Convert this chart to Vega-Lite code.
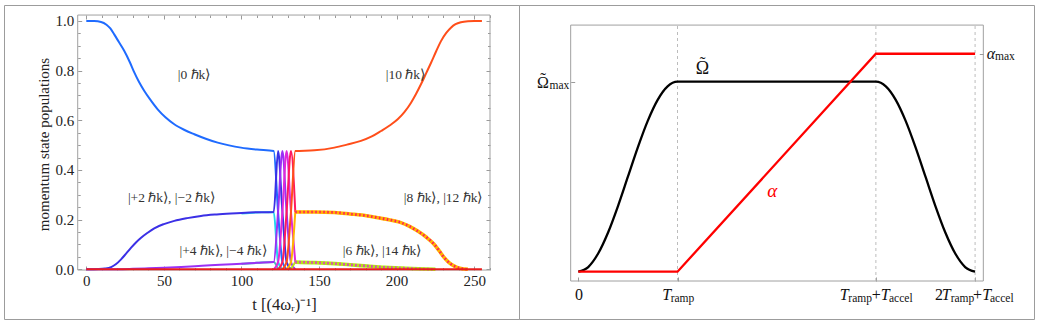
{
  "$schema": "https://vega.github.io/schema/vega-lite/v6.json",
  "background": "white",
  "padding": {"left": 3, "top": 4, "right": 0, "bottom": 0},
  "spacing": 0,
  "bounds": "flush",
  "resolve": {"scale": {"color": "independent"}},
  "config": {
    "view": {"stroke": "#9c9c9c", "strokeWidth": 1},
    "font": "Liberation Serif",
    "axis": {"labelFont": "Liberation Serif", "titleFont": "Liberation Serif", "labelColor": "#222", "titleColor": "#222", "tickColor": "#9a9a9a", "domain": false, "grid": false, "labelFlush": false, "labelOverlap": false, "titleFontWeight": "normal", "labelFontSize": 15, "titleFontSize": 15}
  },
  "datasets": {
    "left": [
      {"s": "m4", "t": 100, "v": 0.022}, {"s": "m4", "t": 110, "v": 0.026}, {"s": "m4", "t": 120.8, "v": 0.029}, {"s": "m4", "t": 123.6, "v": 0},
      {"s": "m2", "t": 100, "v": 0.225}, {"s": "m2", "t": 110, "v": 0.229}, {"s": "m2", "t": 120.8, "v": 0.231}, {"s": "m2", "t": 123.6, "v": 0.029}, {"s": "m2", "t": 126.4, "v": 0},
      {"s": "z0", "t": 0, "v": 1}, {"s": "z0", "t": 5, "v": 0.9995}, {"s": "z0", "t": 9.5, "v": 0.996}, {"s": "z0", "t": 13, "v": 0.985}, {"s": "z0", "t": 15.5, "v": 0.97}, {"s": "z0", "t": 18, "v": 0.946}, {"s": "z0", "t": 21, "v": 0.915}, {"s": "z0", "t": 24.5, "v": 0.879}, {"s": "z0", "t": 28, "v": 0.835}, {"s": "z0", "t": 31, "v": 0.792}, {"s": "z0", "t": 34, "v": 0.754}, {"s": "z0", "t": 37.4, "v": 0.718}, {"s": "z0", "t": 41, "v": 0.685}, {"s": "z0", "t": 46, "v": 0.644}, {"s": "z0", "t": 51, "v": 0.612}, {"s": "z0", "t": 56.7, "v": 0.584}, {"s": "z0", "t": 63, "v": 0.562}, {"s": "z0", "t": 69.6, "v": 0.544}, {"s": "z0", "t": 77, "v": 0.526}, {"s": "z0", "t": 84.7, "v": 0.51}, {"s": "z0", "t": 92, "v": 0.499}, {"s": "z0", "t": 99.7, "v": 0.49}, {"s": "z0", "t": 110, "v": 0.482}, {"s": "z0", "t": 120.8, "v": 0.476}, {"s": "z0", "t": 123.6, "v": 0.231}, {"s": "z0", "t": 126.4, "v": 0.029}, {"s": "z0", "t": 129.1, "v": 0},
      {"s": "p2", "t": 0, "v": 0}, {"s": "p2", "t": 8, "v": 0.001}, {"s": "p2", "t": 12, "v": 0.003}, {"s": "p2", "t": 16, "v": 0.009}, {"s": "p2", "t": 19, "v": 0.02}, {"s": "p2", "t": 22.4, "v": 0.04}, {"s": "p2", "t": 25.5, "v": 0.062}, {"s": "p2", "t": 28.9, "v": 0.087}, {"s": "p2", "t": 32, "v": 0.108}, {"s": "p2", "t": 35.3, "v": 0.127}, {"s": "p2", "t": 39.5, "v": 0.147}, {"s": "p2", "t": 43.8, "v": 0.165}, {"s": "p2", "t": 50, "v": 0.182}, {"s": "p2", "t": 56.7, "v": 0.195}, {"s": "p2", "t": 65, "v": 0.206}, {"s": "p2", "t": 73.9, "v": 0.215}, {"s": "p2", "t": 84, "v": 0.221}, {"s": "p2", "t": 93.3, "v": 0.225}, {"s": "p2", "t": 105, "v": 0.229}, {"s": "p2", "t": 120.8, "v": 0.231}, {"s": "p2", "t": 123.6, "v": 0.476}, {"s": "p2", "t": 126.4, "v": 0.231}, {"s": "p2", "t": 129.1, "v": 0.029}, {"s": "p2", "t": 131.9, "v": 0},
      {"s": "p4", "t": 0, "v": 0}, {"s": "p4", "t": 20, "v": 0.0005}, {"s": "p4", "t": 30, "v": 0.002}, {"s": "p4", "t": 40, "v": 0.004}, {"s": "p4", "t": 50, "v": 0.006}, {"s": "p4", "t": 61.2, "v": 0.009}, {"s": "p4", "t": 70, "v": 0.012}, {"s": "p4", "t": 80, "v": 0.016}, {"s": "p4", "t": 90, "v": 0.019}, {"s": "p4", "t": 100, "v": 0.022}, {"s": "p4", "t": 110, "v": 0.026}, {"s": "p4", "t": 120.8, "v": 0.029}, {"s": "p4", "t": 123.6, "v": 0.231}, {"s": "p4", "t": 126.4, "v": 0.476}, {"s": "p4", "t": 129.1, "v": 0.231}, {"s": "p4", "t": 131.9, "v": 0.029}, {"s": "p4", "t": 134.7, "v": 0},
      {"s": "p6", "t": 120.8, "v": 0}, {"s": "p6", "t": 123.6, "v": 0.029}, {"s": "p6", "t": 126.4, "v": 0.231}, {"s": "p6", "t": 129.1, "v": 0.476}, {"s": "p6", "t": 131.9, "v": 0.231}, {"s": "p6", "t": 134.7, "v": 0.029},
      {"s": "p8", "t": 123.6, "v": 0}, {"s": "p8", "t": 126.4, "v": 0.029}, {"s": "p8", "t": 129.1, "v": 0.231}, {"s": "p8", "t": 131.9, "v": 0.476}, {"s": "p8", "t": 134.7, "v": 0.231},
      {"s": "p10", "t": 126.4, "v": 0}, {"s": "p10", "t": 129.1, "v": 0.029}, {"s": "p10", "t": 131.9, "v": 0.231}, {"s": "p10", "t": 134.7, "v": 0.476}, {"s": "p10", "t": 147, "v": 0.479}, {"s": "p10", "t": 159.9, "v": 0.49}, {"s": "p10", "t": 168, "v": 0.502}, {"s": "p10", "t": 177, "v": 0.517}, {"s": "p10", "t": 184, "v": 0.535}, {"s": "p10", "t": 190, "v": 0.557}, {"s": "p10", "t": 195.5, "v": 0.579}, {"s": "p10", "t": 200.7, "v": 0.604}, {"s": "p10", "t": 205, "v": 0.633}, {"s": "p10", "t": 209.3, "v": 0.671}, {"s": "p10", "t": 212.5, "v": 0.706}, {"s": "p10", "t": 215.7, "v": 0.745}, {"s": "p10", "t": 219, "v": 0.789}, {"s": "p10", "t": 222.2, "v": 0.832}, {"s": "p10", "t": 225.5, "v": 0.878}, {"s": "p10", "t": 228.6, "v": 0.919}, {"s": "p10", "t": 232, "v": 0.952}, {"s": "p10", "t": 235, "v": 0.973}, {"s": "p10", "t": 238, "v": 0.987}, {"s": "p10", "t": 241.5, "v": 0.995}, {"s": "p10", "t": 246, "v": 0.999}, {"s": "p10", "t": 250, "v": 1}, {"s": "p10", "t": 255, "v": 1},
      {"s": "p12", "t": 129.1, "v": 0}, {"s": "p12", "t": 131.9, "v": 0.029}, {"s": "p12", "t": 134.7, "v": 0.231},
      {"s": "p14", "t": 131.9, "v": 0}, {"s": "p14", "t": 134.7, "v": 0.029},
      {"s": "p12w", "t": 134.7, "v": 0.231}, {"s": "p12w", "t": 147, "v": 0.231}, {"s": "p12w", "t": 160, "v": 0.229}, {"s": "p12w", "t": 170, "v": 0.223}, {"s": "p12w", "t": 181.4, "v": 0.215}, {"s": "p12w", "t": 192, "v": 0.203}, {"s": "p12w", "t": 202.8, "v": 0.188}, {"s": "p12w", "t": 208, "v": 0.174}, {"s": "p12w", "t": 213.6, "v": 0.154}, {"s": "p12w", "t": 219, "v": 0.13}, {"s": "p12w", "t": 224.3, "v": 0.1}, {"s": "p12w", "t": 227.5, "v": 0.074}, {"s": "p12w", "t": 230.7, "v": 0.047}, {"s": "p12w", "t": 234, "v": 0.026}, {"s": "p12w", "t": 237.2, "v": 0.013}, {"s": "p12w", "t": 241.5, "v": 0.003}, {"s": "p12w", "t": 246, "v": 0},
      {"s": "p14w", "t": 134.7, "v": 0.029}, {"s": "p14w", "t": 147, "v": 0.027}, {"s": "p14w", "t": 160, "v": 0.023}, {"s": "p14w", "t": 170, "v": 0.018}, {"s": "p14w", "t": 181, "v": 0.013}, {"s": "p14w", "t": 192, "v": 0.008}, {"s": "p14w", "t": 203, "v": 0.005}, {"s": "p14w", "t": 214, "v": 0.002}, {"s": "p14w", "t": 225, "v": 0},
      {"s": "p8d", "t": 134.7, "v": 0.231}, {"s": "p8d", "t": 147, "v": 0.231}, {"s": "p8d", "t": 160, "v": 0.229}, {"s": "p8d", "t": 170, "v": 0.223}, {"s": "p8d", "t": 181.4, "v": 0.215}, {"s": "p8d", "t": 192, "v": 0.203}, {"s": "p8d", "t": 202.8, "v": 0.188}, {"s": "p8d", "t": 208, "v": 0.174}, {"s": "p8d", "t": 213.6, "v": 0.154}, {"s": "p8d", "t": 219, "v": 0.13}, {"s": "p8d", "t": 224.3, "v": 0.1}, {"s": "p8d", "t": 227.5, "v": 0.074}, {"s": "p8d", "t": 230.7, "v": 0.047}, {"s": "p8d", "t": 234, "v": 0.026}, {"s": "p8d", "t": 237.2, "v": 0.013}, {"s": "p8d", "t": 241.5, "v": 0.003}, {"s": "p8d", "t": 246, "v": 0},
      {"s": "p6d", "t": 134.7, "v": 0.029}, {"s": "p6d", "t": 147, "v": 0.027}, {"s": "p6d", "t": 160, "v": 0.023}, {"s": "p6d", "t": 170, "v": 0.018}, {"s": "p6d", "t": 181, "v": 0.013}, {"s": "p6d", "t": 192, "v": 0.008}, {"s": "p6d", "t": 203, "v": 0.005}, {"s": "p6d", "t": 214, "v": 0.002}, {"s": "p6d", "t": 225, "v": 0},
      {"s": "zero", "t": 0, "v": 0}, {"s": "zero", "t": 255, "v": 0}
    ],
    "leftLabels": [
      {"t": 69.4, "v": 0.782, "label": "|0 ℏk⟩"},
      {"t": 205.7, "v": 0.782, "label": "|10 ℏk⟩"},
      {"t": 54.9, "v": 0.288, "label": "|+2 ℏk⟩, |−2 ℏk⟩"},
      {"t": 230, "v": 0.288, "label": "|8 ℏk⟩, |12 ℏk⟩"},
      {"t": 88.1, "v": 0.0737, "label": "|+4 ℏk⟩, |−4 ℏk⟩"},
      {"t": 190.6, "v": 0.0737, "label": "|6 ℏk⟩, |14 ℏk⟩"}
    ],
    "right": [
      {"s": "Omega", "x": 0, "y": 0}, {"s": "Omega", "x": 0.1, "y": 0.0245}, {"s": "Omega", "x": 0.2, "y": 0.0955}, {"s": "Omega", "x": 0.3, "y": 0.2061}, {"s": "Omega", "x": 0.4, "y": 0.3455}, {"s": "Omega", "x": 0.5, "y": 0.5}, {"s": "Omega", "x": 0.6, "y": 0.6545}, {"s": "Omega", "x": 0.7, "y": 0.7939}, {"s": "Omega", "x": 0.8, "y": 0.9045}, {"s": "Omega", "x": 0.9, "y": 0.9755}, {"s": "Omega", "x": 1, "y": 1}, {"s": "Omega", "x": 3, "y": 1}, {"s": "Omega", "x": 3.1, "y": 0.9755}, {"s": "Omega", "x": 3.2, "y": 0.9045}, {"s": "Omega", "x": 3.3, "y": 0.7939}, {"s": "Omega", "x": 3.4, "y": 0.6545}, {"s": "Omega", "x": 3.5, "y": 0.5}, {"s": "Omega", "x": 3.6, "y": 0.3455}, {"s": "Omega", "x": 3.7, "y": 0.2061}, {"s": "Omega", "x": 3.8, "y": 0.0955}, {"s": "Omega", "x": 3.9, "y": 0.0245}, {"s": "Omega", "x": 4, "y": 0},
      {"s": "alpha", "x": 0, "y": 0}, {"s": "alpha", "x": 1, "y": 0}, {"s": "alpha", "x": 3, "y": 1.147}, {"s": "alpha", "x": 4, "y": 1.147}
    ],
    "marks": [{"x": 1}, {"x": 3}, {"x": 4}],
    "rRoman": [
      {"x": -0.033, "y": -0.149, "t": "0"},
      {"x": 2.958, "y": -0.149, "t": "+"},
      {"x": 3.596, "y": -0.149, "t": "2"},
      {"x": 3.979, "y": -0.149, "t": "+"},
      {"x": -0.416, "y": 0.969, "t": "Ω"}
    ],
    "rItalic": [
      {"x": 0.847, "y": -0.149, "t": "T"},
      {"x": 2.635, "y": -0.149, "t": "T"},
      {"x": 3.048, "y": -0.149, "t": "T"},
      {"x": 3.663, "y": -0.149, "t": "T"},
      {"x": 4.073, "y": -0.149, "t": "T"},
      {"x": 4.117, "y": 1.122, "t": "α"}
    ],
    "rSub": [
      {"x": 0.931, "y": -0.162, "t": "ramp"},
      {"x": 2.722, "y": -0.162, "t": "ramp"},
      {"x": 3.132, "y": -0.162, "t": "accel"},
      {"x": 3.754, "y": -0.162, "t": "ramp"},
      {"x": 4.15, "y": -0.162, "t": "accel"},
      {"x": -0.29, "y": 0.962, "t": "max"},
      {"x": 4.201, "y": 1.112, "t": "max"}
    ],
    "rTilde": [
      {"x": -0.355, "y": 0.99, "t": "˜"},
      {"x": 1.253, "y": 1.07, "t": "˜"}
    ],
    "rOmegaLabel": [{"x": 1.184, "y": 1.039, "t": "Ω"}],
    "rAlphaLabel": [{"x": 1.905, "y": 0.393, "t": "α"}]
  },
  "hconcat": [
    {
      "width": 515,
      "height": 314,
      "resolve": {"axis": {"x": "independent", "y": "independent"}},
      "layer": [
        {
          "data": {"values": [{}]},
          "mark": {"type": "rect", "fillOpacity": 0, "stroke": "#a0a0a0", "strokeWidth": 1},
          "encoding": {
            "x": {"datum": -5.54, "type": "quantitative", "scale": {"domain": [-53.05, 278.89], "nice": false, "zero": false},
              "axis": {"orient": "bottom", "offset": -49, "values": [0, 50, 100, 150, 200, 250], "tickSize": -4, "labelPadding": 7, "title": "t [(4ωᵣ)⁻¹]", "titleFontSize": 16.5, "titleX": 280, "titleY": 34, "titleBaseline": "middle", "titleAlign": "center"}},
            "x2": {"datum": 260.2},
            "y": {"datum": -0.003, "type": "quantitative", "scale": {"domain": [-0.2002, 1.0644], "nice": false, "zero": false},
              "axis": {"orient": "left", "offset": -73.7, "values": [0, 0.2, 0.4, 0.6, 0.8, 1], "format": ".1f", "tickSize": -4, "labelPadding": 8, "title": "momentum state populations", "titleX": -34, "titleY": 139, "titleAngle": -90, "titleBaseline": "middle", "titleAlign": "center"}},
            "y2": {"datum": 1.024}
          }
        },
        {
          "data": {"name": "left"},
          "transform": [{"filter": {"field": "s", "oneOf": ["m4", "m2", "z0", "p2", "p4", "p6", "p8", "p10", "p12", "p14"]}}],
          "mark": {"type": "line", "strokeWidth": 2, "interpolate": "monotone"},
          "encoding": {
            "x": {"field": "t", "type": "quantitative", "scale": {"domain": [-53.05, 278.89], "nice": false, "zero": false},
              "axis": {"orient": "bottom", "offset": -49, "values": [10, 20, 30, 40, 60, 70, 80, 90, 110, 120, 130, 140, 160, 170, 180, 190, 210, 220, 230, 240, 260], "tickSize": -2.5, "labels": false, "title": null}},
            "y": {"field": "v", "type": "quantitative", "scale": {"domain": [-0.2002, 1.0644], "nice": false, "zero": false},
              "axis": {"orient": "left", "offset": -73.7, "values": [0.05, 0.1, 0.15, 0.25, 0.3, 0.35, 0.45, 0.5, 0.55, 0.65, 0.7, 0.75, 0.85, 0.9, 0.95], "tickSize": -2.5, "labels": false, "title": null}},
            "color": {"field": "s", "type": "nominal", "legend": null,
              "scale": {"domain": ["m4", "m2", "z0", "p2", "p4", "p6", "p8", "p10", "p12", "p14", "p12w", "p14w", "p8d", "p6d", "zero"],
                "range": ["#3cc8b4", "#22d4ee", "#1f6bff", "#3b30e6", "#9b30f5", "#e02ad8", "#ff1a5e", "#ff4e1a", "#ffb300", "#b4e614", "#ffb300", "#b4e614", "#ff1a5e", "#e02ad8", "#e81c1c"]}}
          }
        },
        {
          "data": {"name": "left"},
          "transform": [{"filter": {"field": "s", "oneOf": ["p12w", "p14w"]}}],
          "mark": {"type": "line", "strokeWidth": 3.6, "interpolate": "monotone"},
          "encoding": {
            "x": {"field": "t", "type": "quantitative", "scale": {"domain": [-53.05, 278.89], "nice": false, "zero": false},
              "axis": {"orient": "top", "offset": -10, "values": [0, 50, 100, 150, 200, 250], "tickSize": -4, "labels": false, "title": null}},
            "y": {"field": "v", "type": "quantitative", "scale": {"domain": [-0.2002, 1.0644], "nice": false, "zero": false},
              "axis": {"orient": "right", "offset": -29, "values": [0, 0.2, 0.4, 0.6, 0.8, 1], "tickSize": -4, "labels": false, "title": null}},
            "color": {"field": "s", "type": "nominal", "legend": null,
              "scale": {"domain": ["m4", "m2", "z0", "p2", "p4", "p6", "p8", "p10", "p12", "p14", "p12w", "p14w", "p8d", "p6d", "zero"],
                "range": ["#3cc8b4", "#22d4ee", "#1f6bff", "#3b30e6", "#9b30f5", "#e02ad8", "#ff1a5e", "#ff4e1a", "#ffb300", "#b4e614", "#ffb300", "#b4e614", "#ff1a5e", "#e02ad8", "#e81c1c"]}}
          }
        },
        {
          "data": {"name": "left"},
          "transform": [{"filter": {"field": "s", "oneOf": ["p8d", "p6d"]}}],
          "mark": {"type": "line", "strokeWidth": 2.6, "strokeDash": [1.5, 2.5], "interpolate": "monotone"},
          "encoding": {
            "x": {"field": "t", "type": "quantitative", "scale": {"domain": [-53.05, 278.89], "nice": false, "zero": false},
              "axis": {"orient": "top", "offset": -10, "values": [10, 20, 30, 40, 60, 70, 80, 90, 110, 120, 130, 140, 160, 170, 180, 190, 210, 220, 230, 240, 260], "tickSize": -2.5, "labels": false, "title": null}},
            "y": {"field": "v", "type": "quantitative", "scale": {"domain": [-0.2002, 1.0644], "nice": false, "zero": false},
              "axis": {"orient": "right", "offset": -29, "values": [0.05, 0.1, 0.15, 0.25, 0.3, 0.35, 0.45, 0.5, 0.55, 0.65, 0.7, 0.75, 0.85, 0.9, 0.95], "tickSize": -2.5, "labels": false, "title": null}},
            "color": {"field": "s", "type": "nominal", "legend": null,
              "scale": {"domain": ["m4", "m2", "z0", "p2", "p4", "p6", "p8", "p10", "p12", "p14", "p12w", "p14w", "p8d", "p6d", "zero"],
                "range": ["#3cc8b4", "#22d4ee", "#1f6bff", "#3b30e6", "#9b30f5", "#e02ad8", "#ff1a5e", "#ff4e1a", "#ffb300", "#b4e614", "#ffb300", "#b4e614", "#ff1a5e", "#e02ad8", "#e81c1c"]}}
          }
        },
        {
          "data": {"name": "left"},
          "transform": [{"filter": {"field": "s", "equal": "zero"}}],
          "mark": {"type": "line", "strokeWidth": 2, "color": "#e81c1c"},
          "encoding": {
            "x": {"field": "t", "type": "quantitative", "scale": {"domain": [-53.05, 278.89], "nice": false, "zero": false}, "axis": null},
            "y": {"field": "v", "type": "quantitative", "scale": {"domain": [-0.2002, 1.0644], "nice": false, "zero": false}, "axis": null}
          }
        },
        {
          "data": {"name": "leftLabels"},
          "mark": {"type": "text", "fontSize": 13.5, "font": "Liberation Serif", "color": "#333", "align": "center", "baseline": "middle"},
          "encoding": {
            "x": {"field": "t", "type": "quantitative", "scale": {"domain": [-53.05, 278.89], "nice": false, "zero": false}, "axis": null},
            "y": {"field": "v", "type": "quantitative", "scale": {"domain": [-0.2002, 1.0644], "nice": false, "zero": false}, "axis": null},
            "text": {"field": "label"}
          }
        }
      ]
    },
    {
      "width": 515,
      "height": 314,
      "resolve": {"axis": {"x": "independent", "y": "independent"}},
      "layer": [
        {
          "data": {"values": [{}]},
          "mark": {"type": "rect", "fillOpacity": 0, "stroke": "#a0a0a0", "strokeWidth": 1},
          "encoding": {
            "x": {"datum": -0.077, "type": "quantitative", "scale": {"domain": [-0.598, 4.594], "nice": false, "zero": false},
              "axis": {"orient": "bottom", "offset": -38, "values": [0, 1, 3, 4], "tickSize": -4, "labels": false, "title": null}},
            "x2": {"datum": 4.083},
            "y": {"datum": -0.049, "type": "quantitative", "scale": {"domain": [-0.249, 1.4037], "nice": false, "zero": false},
              "axis": {"orient": "left", "offset": -51.7, "values": [1], "tickSize": -4, "labels": false, "title": null}},
            "y2": {"datum": 1.298}
          }
        },
        {
          "data": {"name": "marks"},
          "mark": {"type": "rule", "color": "#b4b4b4", "strokeWidth": 0.9, "strokeDash": [3, 3]},
          "encoding": {
            "x": {"field": "x", "type": "quantitative", "scale": {"domain": [-0.598, 4.594], "nice": false, "zero": false}, "axis": null},
            "y": {"datum": -0.049, "type": "quantitative", "scale": {"domain": [-0.249, 1.4037], "nice": false, "zero": false},
              "axis": {"orient": "right", "offset": -50.7, "values": [1.147], "tickSize": -4, "labels": false, "title": null}},
            "y2": {"datum": 1.298}
          }
        },
        {
          "data": {"name": "right"},
          "transform": [{"filter": {"field": "s", "equal": "Omega"}}],
          "mark": {"type": "line", "strokeWidth": 2.3, "interpolate": "monotone"},
          "encoding": {
            "x": {"field": "x", "type": "quantitative", "scale": {"domain": [-0.598, 4.594], "nice": false, "zero": false}, "axis": null},
            "y": {"field": "y", "type": "quantitative", "scale": {"domain": [-0.249, 1.4037], "nice": false, "zero": false}, "axis": null},
            "color": {"field": "s", "type": "nominal", "legend": null, "scale": {"domain": ["Omega", "alpha"], "range": ["#000000", "#ff0000"]}}
          }
        },
        {
          "data": {"name": "right"},
          "transform": [{"filter": {"field": "s", "equal": "alpha"}}],
          "mark": {"type": "line", "strokeWidth": 2.3, "interpolate": "linear"},
          "encoding": {
            "x": {"field": "x", "type": "quantitative", "scale": {"domain": [-0.598, 4.594], "nice": false, "zero": false}, "axis": null},
            "y": {"field": "y", "type": "quantitative", "scale": {"domain": [-0.249, 1.4037], "nice": false, "zero": false}, "axis": null},
            "color": {"field": "s", "type": "nominal", "legend": null, "scale": {"domain": ["Omega", "alpha"], "range": ["#000000", "#ff0000"]}}
          }
        },
        {
          "data": {"name": "rRoman"},
          "mark": {"type": "text", "fontSize": 16, "font": "Liberation Serif", "color": "#111", "align": "left", "baseline": "alphabetic"},
          "encoding": {
            "x": {"field": "x", "type": "quantitative", "scale": {"domain": [-0.598, 4.594], "nice": false, "zero": false}, "axis": null},
            "y": {"field": "y", "type": "quantitative", "scale": {"domain": [-0.249, 1.4037], "nice": false, "zero": false}, "axis": null},
            "text": {"field": "t"}
          }
        },
        {
          "data": {"name": "rTilde"},
          "mark": {"type": "text", "fontSize": 17, "font": "Liberation Serif", "color": "#111", "align": "center", "baseline": "alphabetic"},
          "encoding": {
            "x": {"field": "x", "type": "quantitative", "scale": {"domain": [-0.598, 4.594], "nice": false, "zero": false}, "axis": null},
            "y": {"field": "y", "type": "quantitative", "scale": {"domain": [-0.249, 1.4037], "nice": false, "zero": false}, "axis": null},
            "text": {"field": "t"}
          }
        },
        {
          "data": {"name": "rItalic"},
          "mark": {"type": "text", "fontSize": 16, "font": "Liberation Serif", "fontStyle": "italic", "color": "#111", "align": "left", "baseline": "alphabetic"},
          "encoding": {
            "x": {"field": "x", "type": "quantitative", "scale": {"domain": [-0.598, 4.594], "nice": false, "zero": false}, "axis": null},
            "y": {"field": "y", "type": "quantitative", "scale": {"domain": [-0.249, 1.4037], "nice": false, "zero": false}, "axis": null},
            "text": {"field": "t"}
          }
        },
        {
          "data": {"name": "rSub"},
          "mark": {"type": "text", "fontSize": 11.5, "font": "Liberation Serif", "color": "#111", "align": "left", "baseline": "alphabetic"},
          "encoding": {
            "x": {"field": "x", "type": "quantitative", "scale": {"domain": [-0.598, 4.594], "nice": false, "zero": false}, "axis": null},
            "y": {"field": "y", "type": "quantitative", "scale": {"domain": [-0.249, 1.4037], "nice": false, "zero": false}, "axis": null},
            "text": {"field": "t"}
          }
        },
        {
          "data": {"name": "rOmegaLabel"},
          "mark": {"type": "text", "fontSize": 18, "font": "Liberation Serif", "color": "#111", "align": "left", "baseline": "alphabetic"},
          "encoding": {
            "x": {"field": "x", "type": "quantitative", "scale": {"domain": [-0.598, 4.594], "nice": false, "zero": false}, "axis": null},
            "y": {"field": "y", "type": "quantitative", "scale": {"domain": [-0.249, 1.4037], "nice": false, "zero": false}, "axis": null},
            "text": {"field": "t"}
          }
        },
        {
          "data": {"name": "rAlphaLabel"},
          "mark": {"type": "text", "fontSize": 19, "font": "Liberation Serif", "fontStyle": "italic", "color": "#ff0000", "align": "left", "baseline": "alphabetic"},
          "encoding": {
            "x": {"field": "x", "type": "quantitative", "scale": {"domain": [-0.598, 4.594], "nice": false, "zero": false}, "axis": null},
            "y": {"field": "y", "type": "quantitative", "scale": {"domain": [-0.249, 1.4037], "nice": false, "zero": false}, "axis": null},
            "text": {"field": "t"}
          }
        }
      ]
    }
  ]
}
